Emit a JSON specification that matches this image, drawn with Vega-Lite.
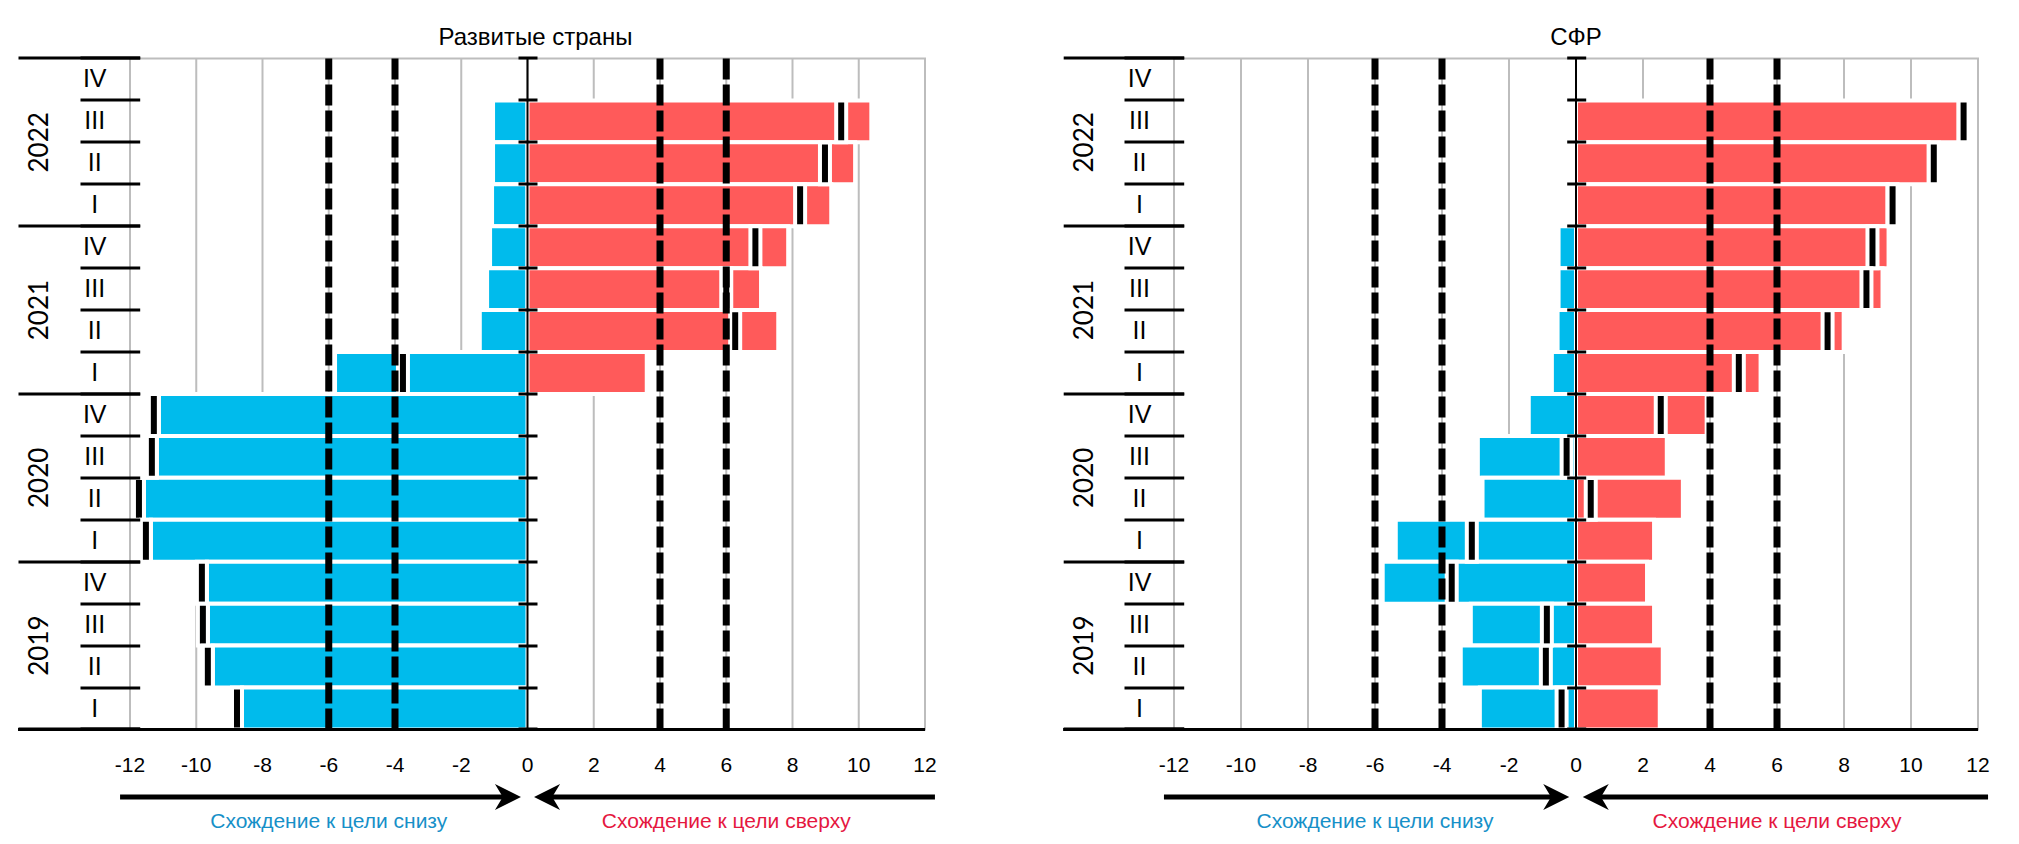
{
  "$schema": "https://vega.github.io/schema/vega-lite/v6.json",
  "background": "white",
  "padding": {"left": 15, "top": 24.5, "right": 10, "bottom": 4},
  "config": {
    "view": {"stroke": "#bdbdbd", "strokeWidth": 2},
    "font": "Liberation Sans",
    "title": {"font": "Liberation Sans", "fontSize": 24, "fontWeight": "normal", "color": "#000000", "offset": 5, "anchor": "middle"}
  },
  "datasets": {
    "dev": [
      {"period": "2022-III", "neg": -1.04, "pos": 10.38, "net": 9.47},
      {"period": "2022-II", "neg": -1.04, "pos": 9.89, "net": 8.98},
      {"period": "2022-I", "neg": -1.07, "pos": 9.17, "net": 8.23},
      {"period": "2021-IV", "neg": -1.13, "pos": 7.87, "net": 6.88},
      {"period": "2021-III", "neg": -1.22, "pos": 7.05, "net": 6.0},
      {"period": "2021-II", "neg": -1.44, "pos": 7.57, "net": 6.27},
      {"period": "2021-I", "neg": -5.81, "pos": 3.6, "net": -3.76},
      {"period": "2020-IV", "neg": -11.13, "pos": null, "net": -11.28},
      {"period": "2020-III", "neg": -11.19, "pos": null, "net": -11.34},
      {"period": "2020-II", "neg": -11.58, "pos": null, "net": -11.73},
      {"period": "2020-I", "neg": -11.37, "pos": null, "net": -11.52},
      {"period": "2019-IV", "neg": -9.68, "pos": null, "net": -9.83},
      {"period": "2019-III", "neg": -9.65, "pos": null, "net": -9.8},
      {"period": "2019-II", "neg": -9.5, "pos": null, "net": -9.65},
      {"period": "2019-I", "neg": -8.62, "pos": null, "net": -8.77}
    ],
    "sfr": [
      {"period": "2022-III", "neg": null, "pos": 11.42, "net": 11.57},
      {"period": "2022-II", "neg": null, "pos": 10.53, "net": 10.68},
      {"period": "2022-I", "neg": null, "pos": 9.3, "net": 9.45},
      {"period": "2021-IV", "neg": -0.52, "pos": 9.33, "net": 8.85},
      {"period": "2021-III", "neg": -0.52, "pos": 9.15, "net": 8.67},
      {"period": "2021-II", "neg": -0.55, "pos": 7.99, "net": 7.51},
      {"period": "2021-I", "neg": -0.72, "pos": 5.51, "net": 4.86},
      {"period": "2020-IV", "neg": -1.41, "pos": 3.9, "net": 2.53},
      {"period": "2020-III", "neg": -2.93, "pos": 2.71, "net": -0.28},
      {"period": "2020-II", "neg": -2.79, "pos": 3.19, "net": 0.44},
      {"period": "2020-I", "neg": -5.38, "pos": 2.33, "net": -3.11},
      {"period": "2019-IV", "neg": -5.77, "pos": 2.12, "net": -3.71},
      {"period": "2019-III", "neg": -3.14, "pos": 2.33, "net": -0.87},
      {"period": "2019-II", "neg": -3.44, "pos": 2.59, "net": -0.9},
      {"period": "2019-I", "neg": -2.87, "pos": 2.5, "net": -0.43}
    ],
    "years": [{"year": "2022", "mid": "2022-III"}, {"year": "2021", "mid": "2021-III"}, {"year": "2020", "mid": "2020-III"}, {"year": "2019", "mid": "2019-III"}],
    "grid": [{"g": -12}, {"g": -10}, {"g": -8}, {"g": -6}, {"g": -4}, {"g": -2}, {"g": 0}, {"g": 2}, {"g": 4}, {"g": 6}, {"g": 8}, {"g": 10}, {"g": 12}],
    "targets": [{"t": -6}, {"t": -4}, {"t": 4}, {"t": 6}],
    "one": [{}]
  },
  "bounds": "flush",
  "spacing": 249,
  "hconcat": [
    {
      "title": {"text": "Развитые страны", "dx": 8},
      "width": 795,
      "height": 671,
      "data": {"name": "dev"},
      "resolve": {"axis": {"y": "independent"}},
      "layer": [
        {
          "data": {"name": "grid"},
          "mark": {"type": "rule", "color": "#bdbdbd", "strokeWidth": 2},
          "encoding": {
            "x": {"field": "g", "type": "quantitative", "scale": {"domain": [-12, 12], "nice": false, "zero": false}, "axis": null}
          }
        },
        {
          "transform": [{"filter": "isValid(datum.neg)"}],
          "mark": {"type": "bar", "fill": "#00bbec", "stroke": "#ffffff", "strokeWidth": 4},
          "encoding": {
            "x": {"field": "neg", "type": "quantitative", "axis": null},
            "x2": {"datum": 0},
            "y": {"field": "period", "type": "nominal",
              "scale": {"type": "band", "domain": ["2022-IV", "2022-III", "2022-II", "2022-I", "2021-IV", "2021-III", "2021-II", "2021-I", "2020-IV", "2020-III", "2020-II", "2020-I", "2019-IV", "2019-III", "2019-II", "2019-I", "A1", "A2", "A3"], "range": [0, 796.81], "paddingInner": 0, "paddingOuter": 0},
              "axis": {"orient": "left", "offset": -9.7, "domain": false, "ticks": true, "bandPosition": 0, "tickSize": 59.7, "tickWidth": 3,
                "tickColor": {"condition": {"test": "datum.value === 'A2' || datum.value === 'A3'", "value": "transparent"}, "value": "#000000"},
                "labelExpr": "isString(datum.value) && length(datum.value) > 5 ? substring(datum.value, 5) : ''", "labelFont": "Liberation Sans", "labelFontSize": 25, "labelAlign": "center", "labelBaseline": "middle", "labelPadding": -14.2, "labelColor": "#000000", "title": null, "grid": false, "zindex": 2}}
          }
        },
        {
          "transform": [{"filter": "isValid(datum.pos)"}],
          "mark": {"type": "bar", "fill": "#ff5a5a", "stroke": "#ffffff", "strokeWidth": 4},
          "encoding": {
            "x": {"field": "pos", "type": "quantitative", "axis": null},
            "x2": {"datum": 0},
            "y": {"field": "period", "type": "nominal", "axis": null}
          }
        },
        {
          "mark": {"type": "tick", "fill": "#000000", "stroke": "#ffffff", "strokeWidth": 4, "thickness": 10, "size": 41.9, "opacity": 1},
          "encoding": {
            "x": {"field": "net", "type": "quantitative", "axis": null},
            "y": {"field": "period", "type": "nominal",
              "axis": {"orient": "left", "offset": -407, "domain": false, "labels": false, "bandPosition": 0, "tickSize": 19, "tickWidth": 3,
                "tickColor": {"condition": {"test": "datum.value === 'A2' || datum.value === 'A3'", "value": "transparent"}, "value": "#000000"},
                "title": null, "grid": false, "zindex": 3}}
          }
        },
        {
          "transform": [{"filter": "isValid(datum.neg)"}],
          "mark": {"type": "bar", "opacity": 0},
          "encoding": {
            "x": {"field": "neg", "type": "quantitative", "axis": null},
            "x2": {"datum": 0},
            "y": {"field": "period", "type": "nominal",
              "axis": {"orient": "left", "offset": -9.7, "domain": false, "labels": false, "bandPosition": 0, "tickSize": 121.7, "tickWidth": 3,
                "tickColor": {"condition": {"test": "indexof(datum.value, '-IV') > 0 || datum.value === 'A1'", "value": "#000000"}, "value": "transparent"},
                "title": null, "grid": false, "zindex": 2}}
          }
        },
        {
          "data": {"name": "years"},
          "mark": {"type": "text", "angle": 270, "align": "center", "baseline": "middle", "font": "Lato", "fontSize": 26, "color": "#000000"},
          "encoding": {
            "x": {"datum": -14.72, "type": "quantitative", "axis": null},
            "y": {"field": "mid", "type": "nominal", "bandPosition": 1, "axis": null},
            "text": {"field": "year"}
          }
        },
        {
          "data": {"name": "targets"},
          "mark": {"type": "rule", "color": "#000000", "strokeWidth": 7, "strokeDash": [21, 5]},
          "encoding": {"x": {"field": "t", "type": "quantitative", "axis": null}}
        },
        {
          "data": {"name": "one"},
          "mark": {"type": "rule", "color": "#000000", "strokeWidth": 2},
          "encoding": {"x": {"datum": 0, "type": "quantitative", "axis": null}}
        },
        {
          "data": {"name": "one"},
          "mark": {"type": "rule", "color": "#000000", "strokeWidth": 3},
          "encoding": {
            "x": {"datum": -15.38, "type": "quantitative", "axis": null},
            "x2": {"datum": 12},
            "y": {"datum": "2019-I", "type": "nominal", "bandPosition": 1, "axis": null}
          }
        },
        {
          "data": {"name": "grid"},
          "mark": {"type": "text", "font": "Liberation Sans", "fontSize": 21, "color": "#000000", "align": "center", "baseline": "middle"},
          "encoding": {
            "x": {"field": "g", "type": "quantitative", "axis": null},
            "y": {"datum": "A1", "type": "nominal", "bandPosition": 0.86, "axis": null},
            "text": {"field": "g", "type": "nominal"}
          }
        },
        {
          "data": {"name": "one"},
          "mark": {"type": "rule", "color": "#000000", "strokeWidth": 5},
          "encoding": {
            "x": {"datum": -12.3, "type": "quantitative", "axis": null},
            "x2": {"datum": -0.6},
            "y": {"datum": "A2", "type": "nominal", "bandPosition": 0.61, "axis": null}
          }
        },
        {
          "data": {"name": "one"},
          "mark": {"type": "rule", "color": "#000000", "strokeWidth": 5},
          "encoding": {
            "x": {"datum": 0.6, "type": "quantitative", "axis": null},
            "x2": {"datum": 12.3},
            "y": {"datum": "A2", "type": "nominal", "bandPosition": 0.61, "axis": null}
          }
        },
        {
          "data": {"name": "one"},
          "mark": {"type": "point", "shape": "M1,0L-1,-1L-0.4,0L-1,1Z", "size": 676, "filled": true, "fill": "#000000", "strokeWidth": 0, "opacity": 1},
          "encoding": {
            "x": {"datum": -0.59, "type": "quantitative", "axis": null},
            "y": {"datum": "A2", "type": "nominal", "bandPosition": 0.61, "axis": null}
          }
        },
        {
          "data": {"name": "one"},
          "mark": {"type": "point", "shape": "M-1,0L1,-1L0.4,0L1,1Z", "size": 676, "filled": true, "fill": "#000000", "strokeWidth": 0, "opacity": 1},
          "encoding": {
            "x": {"datum": 0.59, "type": "quantitative", "axis": null},
            "y": {"datum": "A2", "type": "nominal", "bandPosition": 0.61, "axis": null}
          }
        },
        {
          "data": {"name": "one"},
          "mark": {"type": "text", "text": "Схождение к цели снизу", "font": "Liberation Sans", "fontSize": 21, "color": "#1690c8", "align": "center", "baseline": "middle"},
          "encoding": {
            "x": {"datum": -6, "type": "quantitative", "axis": null},
            "y": {"datum": "A3", "type": "nominal", "bandPosition": 0.21, "axis": null}
          }
        },
        {
          "data": {"name": "one"},
          "mark": {"type": "text", "text": "Схождение к цели сверху", "font": "Liberation Sans", "fontSize": 21, "color": "#e5173f", "align": "center", "baseline": "middle"},
          "encoding": {
            "x": {"datum": 6, "type": "quantitative", "axis": null},
            "y": {"datum": "A3", "type": "nominal", "bandPosition": 0.21, "axis": null}
          }
        }
      ]
    },
    {
      "title": {"text": "СФР"},
      "width": 804,
      "height": 671,
      "data": {"name": "sfr"},
      "resolve": {"axis": {"y": "independent"}},
      "layer": [
        {
          "data": {"name": "grid"},
          "mark": {"type": "rule", "color": "#bdbdbd", "strokeWidth": 2},
          "encoding": {
            "x": {"field": "g", "type": "quantitative", "scale": {"domain": [-12, 12], "nice": false, "zero": false}, "axis": null}
          }
        },
        {
          "transform": [{"filter": "isValid(datum.neg)"}],
          "mark": {"type": "bar", "fill": "#00bbec", "stroke": "#ffffff", "strokeWidth": 4},
          "encoding": {
            "x": {"field": "neg", "type": "quantitative", "axis": null},
            "x2": {"datum": 0},
            "y": {"field": "period", "type": "nominal",
              "scale": {"type": "band", "domain": ["2022-IV", "2022-III", "2022-II", "2022-I", "2021-IV", "2021-III", "2021-II", "2021-I", "2020-IV", "2020-III", "2020-II", "2020-I", "2019-IV", "2019-III", "2019-II", "2019-I", "A1", "A2", "A3"], "range": [0, 796.81], "paddingInner": 0, "paddingOuter": 0},
              "axis": {"orient": "left", "offset": -9.7, "domain": false, "ticks": true, "bandPosition": 0, "tickSize": 59.7, "tickWidth": 3,
                "tickColor": {"condition": {"test": "datum.value === 'A2' || datum.value === 'A3'", "value": "transparent"}, "value": "#000000"},
                "labelExpr": "isString(datum.value) && length(datum.value) > 5 ? substring(datum.value, 5) : ''", "labelFont": "Liberation Sans", "labelFontSize": 25, "labelAlign": "center", "labelBaseline": "middle", "labelPadding": -15, "labelColor": "#000000", "title": null, "grid": false, "zindex": 2}}
          }
        },
        {
          "transform": [{"filter": "isValid(datum.pos)"}],
          "mark": {"type": "bar", "fill": "#ff5a5a", "stroke": "#ffffff", "strokeWidth": 4},
          "encoding": {
            "x": {"field": "pos", "type": "quantitative", "axis": null},
            "x2": {"datum": 0},
            "y": {"field": "period", "type": "nominal", "axis": null}
          }
        },
        {
          "mark": {"type": "tick", "fill": "#000000", "stroke": "#ffffff", "strokeWidth": 4, "thickness": 10, "size": 41.9, "opacity": 1},
          "encoding": {
            "x": {"field": "net", "type": "quantitative", "axis": null},
            "y": {"field": "period", "type": "nominal",
              "axis": {"orient": "left", "offset": -411.7, "domain": false, "labels": false, "bandPosition": 0, "tickSize": 19, "tickWidth": 3,
                "tickColor": {"condition": {"test": "datum.value === 'A2' || datum.value === 'A3'", "value": "transparent"}, "value": "#000000"},
                "title": null, "grid": false, "zindex": 3}}
          }
        },
        {
          "transform": [{"filter": "isValid(datum.pos)"}],
          "mark": {"type": "bar", "opacity": 0},
          "encoding": {
            "x": {"field": "pos", "type": "quantitative", "axis": null},
            "x2": {"datum": 0},
            "y": {"field": "period", "type": "nominal",
              "axis": {"orient": "left", "offset": -9.7, "domain": false, "labels": false, "bandPosition": 0, "tickSize": 120.5, "tickWidth": 3,
                "tickColor": {"condition": {"test": "indexof(datum.value, '-IV') > 0 || datum.value === 'A1'", "value": "#000000"}, "value": "transparent"},
                "title": null, "grid": false, "zindex": 2}}
          }
        },
        {
          "data": {"name": "years"},
          "mark": {"type": "text", "angle": 270, "align": "center", "baseline": "middle", "font": "Lato", "fontSize": 26, "color": "#000000"},
          "encoding": {
            "x": {"datum": -14.67, "type": "quantitative", "axis": null},
            "y": {"field": "mid", "type": "nominal", "bandPosition": 1, "axis": null},
            "text": {"field": "year"}
          }
        },
        {
          "data": {"name": "targets"},
          "mark": {"type": "rule", "color": "#000000", "strokeWidth": 7, "strokeDash": [21, 5]},
          "encoding": {"x": {"field": "t", "type": "quantitative", "axis": null}}
        },
        {
          "data": {"name": "one"},
          "mark": {"type": "rule", "color": "#000000", "strokeWidth": 2},
          "encoding": {"x": {"datum": 0, "type": "quantitative", "axis": null}}
        },
        {
          "data": {"name": "one"},
          "mark": {"type": "rule", "color": "#000000", "strokeWidth": 3},
          "encoding": {
            "x": {"datum": -15.31, "type": "quantitative", "axis": null},
            "x2": {"datum": 12},
            "y": {"datum": "2019-I", "type": "nominal", "bandPosition": 1, "axis": null}
          }
        },
        {
          "data": {"name": "grid"},
          "mark": {"type": "text", "font": "Liberation Sans", "fontSize": 21, "color": "#000000", "align": "center", "baseline": "middle"},
          "encoding": {
            "x": {"field": "g", "type": "quantitative", "axis": null},
            "y": {"datum": "A1", "type": "nominal", "bandPosition": 0.86, "axis": null},
            "text": {"field": "g", "type": "nominal"}
          }
        },
        {
          "data": {"name": "one"},
          "mark": {"type": "rule", "color": "#000000", "strokeWidth": 5},
          "encoding": {
            "x": {"datum": -12.3, "type": "quantitative", "axis": null},
            "x2": {"datum": -0.6},
            "y": {"datum": "A2", "type": "nominal", "bandPosition": 0.61, "axis": null}
          }
        },
        {
          "data": {"name": "one"},
          "mark": {"type": "rule", "color": "#000000", "strokeWidth": 5},
          "encoding": {
            "x": {"datum": 0.6, "type": "quantitative", "axis": null},
            "x2": {"datum": 12.3},
            "y": {"datum": "A2", "type": "nominal", "bandPosition": 0.61, "axis": null}
          }
        },
        {
          "data": {"name": "one"},
          "mark": {"type": "point", "shape": "M1,0L-1,-1L-0.4,0L-1,1Z", "size": 676, "filled": true, "fill": "#000000", "strokeWidth": 0, "opacity": 1},
          "encoding": {
            "x": {"datum": -0.59, "type": "quantitative", "axis": null},
            "y": {"datum": "A2", "type": "nominal", "bandPosition": 0.61, "axis": null}
          }
        },
        {
          "data": {"name": "one"},
          "mark": {"type": "point", "shape": "M-1,0L1,-1L0.4,0L1,1Z", "size": 676, "filled": true, "fill": "#000000", "strokeWidth": 0, "opacity": 1},
          "encoding": {
            "x": {"datum": 0.59, "type": "quantitative", "axis": null},
            "y": {"datum": "A2", "type": "nominal", "bandPosition": 0.61, "axis": null}
          }
        },
        {
          "data": {"name": "one"},
          "mark": {"type": "text", "text": "Схождение к цели снизу", "font": "Liberation Sans", "fontSize": 21, "color": "#1690c8", "align": "center", "baseline": "middle"},
          "encoding": {
            "x": {"datum": -6, "type": "quantitative", "axis": null},
            "y": {"datum": "A3", "type": "nominal", "bandPosition": 0.21, "axis": null}
          }
        },
        {
          "data": {"name": "one"},
          "mark": {"type": "text", "text": "Схождение к цели сверху", "font": "Liberation Sans", "fontSize": 21, "color": "#e5173f", "align": "center", "baseline": "middle"},
          "encoding": {
            "x": {"datum": 6, "type": "quantitative", "axis": null},
            "y": {"datum": "A3", "type": "nominal", "bandPosition": 0.21, "axis": null}
          }
        }
      ]
    }
  ]
}
